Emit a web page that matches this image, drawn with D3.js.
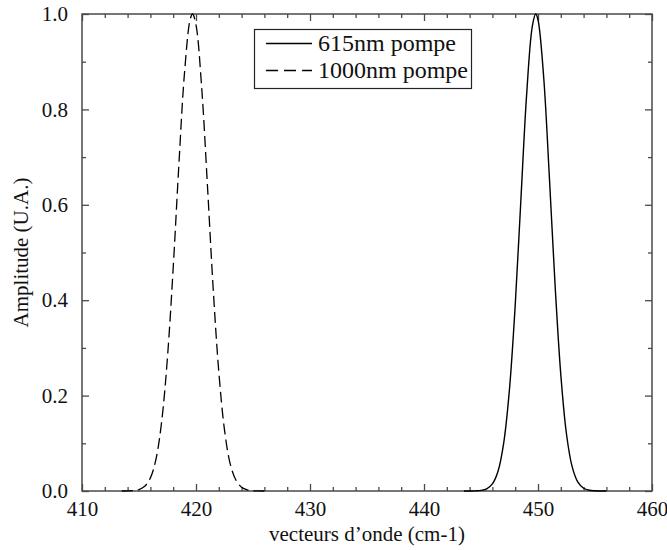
<!DOCTYPE html>
<html>
<head>
<meta charset="utf-8">
<script src="https://cdn.jsdelivr.net/npm/d3@7"></script>
<style>
  html, body { margin: 0; padding: 0; background: #fff; }
  svg { display: block; }
  text { font-family: "Liberation Serif", "Times New Roman", serif; fill: #111; }
</style>
</head>
<body>
<svg id="chart" width="667" height="550"></svg>
<script>
// Spectral amplitude (U.A.) versus wave vector (cm-1), two pump wavelengths
const pump1000X = [413.5, 414, 414.5, 415, 415.5, 416, 416.5, 417, 417.5, 418, 418.5, 419, 419.5, 419.7,
                   420, 420.5, 421, 421.5, 422, 422.5, 423, 423.5, 424, 424.5, 425, 425.5, 426];
const pump1000Y = [0.0000, 0.0002, 0.0008, 0.0030, 0.0098, 0.0275, 0.068, 0.148, 0.281, 0.468, 0.685, 0.879, 0.990, 1.000,
                   0.977, 0.845, 0.642, 0.427, 0.250, 0.128, 0.057, 0.023, 0.0078, 0.0024, 0.0006, 0.0001, 0.0000];

const pump615X = [443.5, 444, 444.5, 445, 445.5, 446, 446.5, 447, 447.5, 448, 448.5, 449, 449.5, 449.8,
                  450, 450.5, 451, 451.5, 452, 452.5, 453, 453.5, 454, 454.5, 455, 455.5, 456];
const pump615Y = [0.0000, 0.0000, 0.0003, 0.0012, 0.0046, 0.0148, 0.042, 0.102, 0.214, 0.389, 0.611, 0.830, 0.974, 1.000,
                  0.988, 0.867, 0.657, 0.431, 0.244, 0.119, 0.0505, 0.0185, 0.0058, 0.0016, 0.0004, 0.0001, 0.0000];

const xMajor = [410, 420, 430, 440, 450, 460];
const xMinor = [412, 414, 416, 418, 422, 424, 426, 428, 432, 434, 436, 438, 442, 444, 446, 448, 452, 454, 456, 458];
const yMajor = [0.0, 0.2, 0.4, 0.6, 0.8, 1.0];
const yMinor = [0.1, 0.3, 0.5, 0.7, 0.9];

const seriesNames = ["615nm pompe", "1000nm pompe"];

const svg = d3.select("#chart");
const m = { left: 82, right: 15, top: 14, bottom: 59 };
const W = 667, H = 550;
const pw = W - m.left - m.right, ph = H - m.top - m.bottom;

const x = d3.scaleLinear().domain([410, 460]).range([0, pw]);
const y = d3.scaleLinear().domain([0, 1]).range([ph, 0]);

const g = svg.append("g").attr("transform", `translate(${m.left},${m.top})`);

const axisColor = "#4a4a4a";
const majorLen = 7, minorLen = 4;
const tickFont = 21;

// Inward ticks on all four sides
function styleAxis(sel) {
  sel.select(".domain").remove();
  sel.selectAll(".tick line").attr("stroke", axisColor).attr("stroke-width", 1.3);
}
function styleLabels(sel) {
  sel.selectAll("text").attr("font-size", tickFont)
    .attr("font-family", "Liberation Serif").attr("fill", "#111");
}

g.append("g").attr("transform", `translate(0,${ph})`)
  .call(d3.axisBottom(x).tickValues(xMajor).tickSize(-majorLen).tickFormat(d3.format("d")).tickPadding(10))
  .call(styleAxis).call(styleLabels);
g.append("g").attr("transform", `translate(0,${ph})`)
  .call(d3.axisBottom(x).tickValues(xMinor).tickSize(-minorLen).tickFormat(""))
  .call(styleAxis);
g.append("g")
  .call(d3.axisTop(x).tickValues(xMajor).tickSize(-majorLen).tickFormat(""))
  .call(styleAxis);
g.append("g")
  .call(d3.axisTop(x).tickValues(xMinor).tickSize(-minorLen).tickFormat(""))
  .call(styleAxis);

g.append("g")
  .call(d3.axisLeft(y).tickValues(yMajor).tickSize(-majorLen).tickFormat(d3.format(".1f")).tickPadding(14))
  .call(styleAxis).call(styleLabels);
g.append("g")
  .call(d3.axisLeft(y).tickValues(yMinor).tickSize(-minorLen).tickFormat(""))
  .call(styleAxis);
g.append("g").attr("transform", `translate(${pw},0)`)
  .call(d3.axisRight(y).tickValues(yMajor).tickSize(-majorLen).tickFormat(""))
  .call(styleAxis);
g.append("g").attr("transform", `translate(${pw},0)`)
  .call(d3.axisRight(y).tickValues(yMinor).tickSize(-minorLen).tickFormat(""))
  .call(styleAxis);

// Frame
g.append("rect").attr("x", 0).attr("y", 0).attr("width", pw).attr("height", ph)
  .attr("fill", "none").attr("stroke", axisColor).attr("stroke-width", 1.5);

// Curves
const line = d3.line().x(d => x(d[0])).y(d => y(d[1])).curve(d3.curveCatmullRom.alpha(0.5));
const solidData = pump615X.map((v, i) => [v, pump615Y[i]]);
const dashedData = pump1000X.map((v, i) => [v, pump1000Y[i]]);

g.append("path").datum(solidData).attr("d", line)
  .attr("fill", "none").attr("stroke", "#000").attr("stroke-width", 1.4);
g.append("path").datum(dashedData).attr("d", line)
  .attr("fill", "none").attr("stroke", "#000").attr("stroke-width", 1.3)
  .attr("stroke-dasharray", "11,5");

// Legend
const lg = svg.append("g");
lg.append("rect").attr("x", 254.5).attr("y", 29.5).attr("width", 217).attr("height", 59)
  .attr("fill", "#fff").attr("stroke", "#222").attr("stroke-width", 1.2);
const legendRows = [
  { name: seriesNames[0], dash: null, yy: 43.5 },
  { name: seriesNames[1], dash: "12,6", yy: 70.5 }
];
legendRows.forEach(r => {
  lg.append("line").attr("x1", 266).attr("x2", 312).attr("y1", r.yy).attr("y2", r.yy)
    .attr("stroke", "#000").attr("stroke-width", 1.3)
    .attr("stroke-dasharray", r.dash);
  lg.append("text").attr("x", 318).attr("y", r.yy + 7.5).attr("font-size", 24).text(r.name);
});

// Axis titles
svg.append("text").attr("x", m.left + pw / 2).attr("y", 541).attr("text-anchor", "middle")
  .attr("font-size", 21).text("vecteurs d’onde (cm-1)");
svg.append("text").attr("transform", `translate(28,${m.top + ph / 2}) rotate(-90)`)
  .attr("text-anchor", "middle").attr("font-size", 21).text("Amplitude (U.A.)");
</script>
</body>
</html>
